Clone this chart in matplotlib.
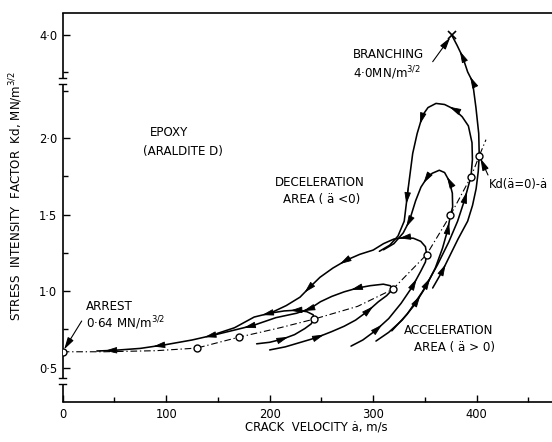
import numpy as np
import matplotlib
matplotlib.use("Agg")
import matplotlib.pyplot as plt
from matplotlib.ticker import FixedLocator, NullFormatter

plt.rcParams['font.family'] = ['DejaVu Sans']

# ---------------- data (crack velocity m/s, K MN/m^3/2) ----------------
kd_x = [0, 40, 90, 129.5, 170.6, 210, 243.1, 285, 318.8, 351.7, 374.7, 394.5, 402.5, 409]
kd_k = [0.603, 0.603, 0.61, 0.627, 0.699, 0.76, 0.817, 0.90, 1.011, 1.239, 1.497, 1.747, 1.884, 1.99]

circ_x = [0, 129.5, 170.6, 243.1, 318.8, 351.7, 374.7, 394.5, 402.5]
circ_k = [0.603, 0.627, 0.699, 0.817, 1.011, 1.239, 1.497, 1.747, 1.884]

branch_x = [357.5, 366, 374, 382, 391.3, 396, 399.5, 401.5, 402.5, 402, 399.3, 396, 391.3, 386.5, 381, 376]
branch_k = [1.02, 1.12, 1.23, 1.34, 1.457, 1.56, 1.67, 1.78, 1.884, 2.03, 2.2, 2.37, 2.70, 3.23, 3.65, 4.0]

loop1_x = [318, 333, 348, 362, 373, 381.6, 388.5, 392.5, 394.5, 395.9, 395.5, 392, 386, 378, 369, 360.7,
           353, 347.8, 342.5, 338.2, 334, 330, 324, 316, 306]
loop1_k = [0.74, 0.85, 1.0, 1.17, 1.32, 1.457, 1.6, 1.70, 1.747, 1.86, 1.97, 2.08, 2.14, 2.19, 2.22, 2.227,
           2.20, 2.15, 2.03, 1.90, 1.68, 1.457, 1.36, 1.30, 1.26]

loop2_x = [302.7, 315, 328, 340, 351, 360, 367, 372, 374.7, 376.8, 376.5, 373.5, 369, 363.9, 357, 351,
           346.2, 341, 334.9, 329, 320, 310]
loop2_k = [0.673, 0.73, 0.81, 0.91, 1.03, 1.15, 1.28, 1.40, 1.497, 1.55, 1.64, 1.72, 1.775, 1.79, 1.77, 1.73,
           1.68, 1.59, 1.457, 1.38, 1.31, 1.27]

loop3_x = [278.6, 290, 302, 315, 327, 338, 346, 350.5, 351.7, 350.5, 346, 339, 330, 320, 310, 300, 287,
           274.4, 261, 248.6, 238, 229.3, 216, 203.5]
loop3_k = [0.64, 0.68, 0.74, 0.82, 0.92, 1.03, 1.13, 1.19, 1.239, 1.29, 1.325, 1.345, 1.35, 1.34, 1.31, 1.268, 1.24,
           1.203, 1.15, 1.09, 1.02, 0.96, 0.905, 0.865]

loop4_x = [200, 215, 230, 245, 260, 272, 283, 295, 305, 313, 318.8, 316.5, 309.8, 297, 285, 272, 260, 249,
           239, 226, 206, 184, 166, 149, 125, 100, 75, 49, 33]
loop4_k = [0.615, 0.635, 0.665, 0.695, 0.735, 0.77, 0.81, 0.87, 0.93, 0.97, 1.011, 1.035, 1.045, 1.035, 1.02,
           0.995, 0.965, 0.93, 0.885, 0.855, 0.826, 0.775, 0.745, 0.717, 0.68, 0.65, 0.625, 0.612, 0.608]

loop5_x = [187.4, 200, 212, 224, 234, 240, 243.1, 242, 236, 226, 214, 200, 185, 166, 149]
loop5_k = [0.655, 0.665, 0.685, 0.715, 0.755, 0.785, 0.817, 0.845, 0.865, 0.875, 0.87, 0.855, 0.83, 0.76, 0.722]

x_major = [0, 100, 200, 300, 400]
x_minor = [50, 150, 250, 350, 450]
y_major = [0.5, 1.0, 1.5, 2.0, 4.0]
y_major_labels = ['0·5', '1·0', '1·5', '2·0', '4·0']
y_minor = [0.75, 1.25, 1.75, 2.31, 2.69]

# ---------------- broken y scale ----------------
B = 2.3725
C = 0.1844


def fwd(k):
    k = np.asarray(k, dtype=float)
    return np.where(k <= B, k, B + (k - B) * C)


def inv(t):
    t = np.asarray(t, dtype=float)
    return np.where(t <= B, t, B + (t - B) / C)


W, H = 552, 442
fig = plt.figure(figsize=(W / 100, H / 100), dpi=100)
ax = fig.add_axes([62.7 / W, 1 - 402 / H, 1 - 62.7 / W, (402 - 13) / H])
ax.set_yscale('function', functions=(fwd, inv))
ax.set_xlim(0, 472.8)
ax.set_ylim(0.2745, 4.79)

lw = 1.15
for xs, ks in [(branch_x, branch_k), (loop1_x, loop1_k), (loop2_x, loop2_k),
               (loop3_x, loop3_k), (loop4_x, loop4_k), (loop5_x, loop5_k)]:
    ax.plot(xs, ks, color='k', lw=lw, solid_capstyle='round')

ax.plot(kd_x, kd_k, color='k', lw=0.8, ls=(0, (6, 2.5, 1.2, 2.5)))
ax.plot(circ_x, circ_k, ls='none', marker='o', ms=5, mfc='white', mec='k', mew=1.0, zorder=5)
ax.plot([branch_x[-1]], [branch_k[-1]], ls='none', marker='x', ms=6, mec='k', mew=1.2, zorder=5)


def arrows(xs, ks, idxs):
    for i in idxs:
        mx = (xs[i] + xs[i + 1]) / 2
        mk = (ks[i] + ks[i + 1]) / 2
        ax.annotate('', xy=(mx, mk), xytext=(xs[i], ks[i]),
                    arrowprops=dict(arrowstyle='-|>,head_length=0.8,head_width=0.22',
                                    color='k', lw=0.6, shrinkA=0, shrinkB=0,
                                    mutation_scale=9))


arrows(branch_x, branch_k, [1, 11, 13])
arrows(loop1_x, loop1_k, [2, 6, 13, 17, 20])
arrows(loop2_x, loop2_k, [3, 7, 11, 15, 18])
arrows(loop3_x, loop3_k, [2, 5, 12, 17, 20])
arrows(loop4_x, loop4_k, [3, 7, 14, 18, 21, 23, 25, 27])
arrows(loop5_x, loop5_k, [2, 9, 11])

# ---------------- axes ----------------
ax.spines['right'].set_visible(False)
ax.spines['left'].set_visible(False)
ax.spines['top'].set_linewidth(1.2)
ax.spines['bottom'].set_linewidth(1.2)

ax.xaxis.set_major_locator(FixedLocator(x_major))
ax.xaxis.set_minor_locator(FixedLocator(x_minor))
ax.set_xticklabels([str(v) for v in x_major])
ax.yaxis.set_major_locator(FixedLocator(y_major))
ax.yaxis.set_minor_locator(FixedLocator(y_minor))
ax.set_yticklabels(y_major_labels)
ax.yaxis.set_minor_formatter(NullFormatter())
ax.tick_params(which='both', direction='in', top=False, right=False, width=1.0, labelsize=8.3,
               colors='k')
ax.tick_params(which='major', length=5, pad=4)
ax.tick_params(which='minor', length=3.5)

# broken left spine
ytr = ax.get_yaxis_transform()
segs = [(0.2745, 0.392), (0.432, 2.353), (2.478, 4.79)]
for a, b in segs:
    ax.plot([0, 0], [a, b], color='k', lw=1.2, transform=ytr, clip_on=False, solid_capstyle='butt')
for v in [0.392, 0.432, 2.353, 2.478]:
    ax.plot([-0.007, 0.007], [v, v], color='k', lw=1.0, transform=ytr, clip_on=False)

ax.set_xlabel('CRACK  VELOCITY ȧ, m/s', fontsize=8.4)
ax.xaxis.set_label_coords((316 - 62.7) / (W - 62.7), -(427 - 402) / (402 - 13))
ax.xaxis.label.set_va('center')
ax.set_ylabel('STRESS  INTENSITY  FACTOR  Kd, MN/m$^{3/2}$', fontsize=8.6)
ax.yaxis.set_label_coords(-(62.7 - 25) / (W - 62.7), (402 - 196) / (402 - 13))


def ftxt(px, py, s, size=8.6, **kw):
    fig.text(px / W, 1 - py / H, s, fontsize=size, va='center', **kw)


ftxt(150, 133, 'EPOXY')
ftxt(143, 152, '(ARALDITE D)')
ftxt(275, 182, 'DECELERATION')
ftxt(283, 200, 'AREA ( ä <0)')
ftxt(353, 55, 'BRANCHING')
ftxt(353, 73, '4·0MN/m$^{3/2}$')
ftxt(404, 331, 'ACCELERATION')
ftxt(414, 348, 'AREA ( ä > 0)')
ftxt(86, 307, 'ARREST')
ftxt(86, 323, '0·64 MN/m$^{3/2}$')
ftxt(489, 184, 'Kd(ä=0)-ȧ', size=8.3)

ap = dict(arrowstyle='-|>,head_length=0.8,head_width=0.22', color='k', lw=0.8,
          shrinkA=0, shrinkB=2, mutation_scale=9)
ax.annotate('', xy=(branch_x[-1], branch_k[-1]), xytext=(432.7 / W, 1 - 61.7 / H),
            textcoords='figure fraction', arrowprops=ap)
ax.annotate('', xy=(circ_x[0], circ_k[0]), xytext=(81.7 / W, 1 - 321 / H),
            textcoords='figure fraction', arrowprops=ap)
ax.annotate('', xy=(circ_x[-1], circ_k[-1]), xytext=(488 / W, 1 - 175 / H),
            textcoords='figure fraction', arrowprops=ap)

fig.savefig('out.png', dpi=100)
